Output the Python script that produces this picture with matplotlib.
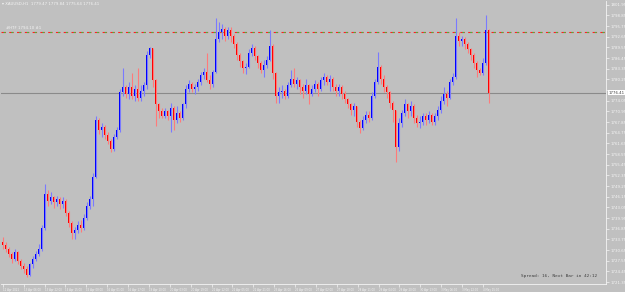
import numpy as np
import matplotlib
matplotlib.use("Agg")
import matplotlib.pyplot as plt

# XAUUSD H1 bars (close / high / low, open = previous close)
closes = [
    1732.0, 1731.0, 1729.5, 1728.0, 1730.0, 1727.5, 1726.0, 1725.0, 1723.5, 1726.5,
    1728.0, 1729.5, 1731.0, 1737.0, 1747.0, 1745.0, 1746.0, 1744.5, 1745.5, 1744.0,
    1745.0, 1741.5, 1738.5, 1735.5, 1736.5, 1738.0, 1737.0, 1740.0, 1743.5, 1745.5,
    1752.0, 1768.5, 1765.5, 1766.5, 1764.0, 1762.5, 1760.0, 1763.5, 1765.5, 1776.5,
    1778.0, 1776.0, 1778.0, 1775.5, 1777.5, 1775.0, 1777.0, 1778.5, 1787.5, 1789.5,
    1780.0, 1773.0, 1771.0, 1769.5, 1771.0, 1769.5, 1772.0, 1768.5, 1770.5, 1769.0,
    1773.0, 1777.5, 1779.0, 1777.5, 1778.0, 1779.5, 1781.5, 1782.5, 1780.0, 1779.0,
    1782.5, 1792.0, 1794.0, 1795.0, 1793.0, 1794.5, 1793.0, 1790.5, 1787.5, 1785.5,
    1783.5, 1784.0, 1788.0, 1789.5, 1787.0, 1785.0, 1783.0, 1784.5, 1786.0, 1790.0,
    1782.0, 1775.5, 1776.5, 1777.0, 1775.5, 1778.5, 1780.5, 1779.0, 1780.0, 1778.0,
    1777.0, 1778.5, 1776.0, 1777.5, 1779.0, 1777.5, 1780.0, 1781.0, 1779.5, 1780.5,
    1778.0, 1777.0, 1778.0, 1776.0, 1774.5, 1773.0, 1771.5, 1772.5, 1768.0, 1766.0,
    1768.5, 1770.0, 1769.0, 1775.5, 1779.5, 1784.0, 1780.5, 1778.0, 1776.5, 1773.5,
    1771.5, 1760.5, 1767.5, 1770.5, 1773.0, 1771.0, 1772.5, 1769.0, 1767.5, 1768.0,
    1769.5, 1768.5, 1770.0, 1768.0, 1769.5, 1771.5, 1774.0, 1776.0, 1775.0, 1779.5,
    1781.0, 1793.0, 1791.5, 1792.0, 1790.5, 1789.0, 1787.5, 1785.0, 1783.0, 1782.0,
    1785.0, 1794.5, 1776.41,
]
highs = [
    1734.5, 1733.0, 1731.5, 1730.0, 1731.0, 1730.5, 1728.0, 1727.0, 1726.0, 1727.0,
    1729.0, 1730.5, 1732.5, 1738.0, 1749.8, 1748.0, 1747.5, 1746.5, 1746.5, 1746.0,
    1746.0, 1745.5, 1742.0, 1739.0, 1737.5, 1739.0, 1739.5, 1741.0, 1744.5, 1746.5,
    1753.0, 1769.5, 1769.0, 1767.5, 1767.0, 1765.0, 1763.0, 1764.5, 1766.5, 1777.5,
    1783.5, 1778.5, 1779.5, 1782.0, 1778.5, 1783.5, 1778.5, 1779.5, 1788.5, 1789.8,
    1789.5, 1780.5, 1773.5, 1772.0, 1772.0, 1771.5, 1773.5, 1772.5, 1772.5, 1771.0,
    1773.5, 1778.5, 1780.0, 1779.5, 1779.0, 1780.5, 1782.5, 1783.5, 1788.0, 1781.5,
    1783.0, 1798.0, 1797.0, 1796.5, 1795.5, 1795.5, 1795.5, 1793.5, 1791.0, 1788.0,
    1786.0, 1785.0, 1789.0, 1790.5, 1790.0, 1787.5, 1785.5, 1786.0, 1787.0, 1794.5,
    1790.5, 1782.5, 1778.0, 1778.5, 1777.5, 1779.5, 1783.0, 1783.6, 1781.0, 1780.5,
    1779.0, 1780.5, 1779.0, 1778.5, 1780.0, 1779.5, 1781.0, 1782.0, 1781.5, 1781.5,
    1781.0, 1779.0, 1779.0, 1778.5, 1777.0, 1775.0, 1773.5, 1773.5, 1772.5, 1768.5,
    1769.5, 1771.0, 1771.0, 1776.5, 1780.5, 1788.3, 1784.5, 1781.5, 1778.5, 1777.0,
    1774.0, 1771.5, 1769.0, 1771.5, 1774.5, 1773.5, 1774.0, 1773.0, 1770.0, 1769.5,
    1770.5, 1770.5, 1771.0, 1770.5, 1770.5, 1772.5, 1775.5, 1778.0, 1777.0, 1780.5,
    1782.0, 1798.2, 1794.0, 1793.0, 1792.5, 1791.0, 1789.5, 1788.0, 1785.5, 1783.5,
    1786.5, 1799.0, 1795.0,
]
lows = [
    1731.0, 1730.0, 1728.5, 1727.0, 1727.5, 1726.5, 1725.0, 1724.0, 1722.8, 1723.0,
    1725.5, 1727.5, 1729.0, 1730.5, 1736.5, 1743.5, 1744.0, 1743.0, 1743.5, 1742.5,
    1743.0, 1740.5, 1737.5, 1733.8, 1734.0, 1735.5, 1736.0, 1736.5, 1739.5, 1742.5,
    1743.5, 1751.5, 1764.5, 1763.5, 1763.0, 1761.5, 1759.3, 1759.5, 1763.0, 1765.0,
    1775.5, 1775.0, 1774.5, 1774.5, 1774.0, 1774.0, 1774.0, 1775.5, 1777.5, 1786.5,
    1778.0, 1766.6, 1769.0, 1769.0, 1769.0, 1768.5, 1765.0, 1765.5, 1767.5, 1768.0,
    1768.5, 1772.0, 1776.5, 1776.5, 1776.0, 1777.0, 1778.5, 1780.5, 1779.5, 1777.5,
    1778.0, 1782.0, 1791.0, 1792.0, 1791.5, 1792.0, 1791.0, 1789.5, 1786.0, 1784.0,
    1782.0, 1781.8, 1783.5, 1787.0, 1786.0, 1783.5, 1782.0, 1781.0, 1783.5, 1785.5,
    1780.5, 1773.5, 1773.5, 1775.0, 1774.5, 1775.0, 1778.0, 1778.0, 1777.5, 1776.0,
    1775.0, 1776.0, 1773.0, 1775.5, 1776.5, 1775.5, 1777.0, 1778.5, 1778.5, 1777.0,
    1777.0, 1775.5, 1775.5, 1774.5, 1773.5, 1772.0, 1770.0, 1769.5, 1766.5, 1764.8,
    1765.5, 1767.5, 1768.0, 1768.5, 1775.0, 1779.0, 1779.0, 1776.5, 1775.0, 1772.0,
    1768.0, 1756.2, 1759.5, 1766.5, 1769.5, 1769.0, 1769.5, 1767.5, 1766.5, 1766.0,
    1767.0, 1767.0, 1767.5, 1767.0, 1767.0, 1768.5, 1770.5, 1773.0, 1772.5, 1774.5,
    1778.5, 1780.5, 1790.0, 1790.0, 1789.0, 1788.0, 1786.0, 1783.5, 1781.0, 1781.6,
    1781.5, 1784.5, 1773.5,
]
first_open = 1733.0

time_labels = [
    "12 Apr 2021", "13 Apr 06:00", "13 Apr 22:00", "14 Apr 15:00", "15 Apr 08:00",
    "16 Apr 01:00", "16 Apr 17:00", "19 Apr 10:00", "20 Apr 03:00", "20 Apr 19:00",
    "21 Apr 12:00", "22 Apr 05:00", "22 Apr 21:00", "23 Apr 16:00", "26 Apr 09:00",
    "27 Apr 02:00", "27 Apr 18:00", "28 Apr 11:00", "29 Apr 04:00", "29 Apr 20:00",
    "30 Apr 13:00", "3 May 06:00", "3 May 22:00", "4 May 15:00",
]
header = "XAUUSD,H1  1779.47 1779.84 1775.64 1776.41"
level_price = 1794.10
level_text = "#HTF 1794.10 #1"
spread_text = "Spread: 16, Next Bar in 42:12"

bg = "#c0c0c0"
txt = "#f4f4f4"

closes = np.array(closes)
highs = np.array(highs)
lows = np.array(lows)
opens = np.concatenate([[first_open], closes[:-1]])
idx = np.arange(len(closes))
up = closes >= opens

fig = plt.figure(figsize=(6.25, 2.92), dpi=100, facecolor=bg)
ax = fig.add_axes([0.002, 0.027, 0.968, 0.970], facecolor=bg)

# wicks (lighter), then bodies
ax.vlines(idx[up], lows[up], highs[up], color="#7a7aff", lw=0.8, zorder=2)
ax.vlines(idx[~up], lows[~up], highs[~up], color="#ff7a7a", lw=0.8, zorder=2)
ax.bar(idx[up], closes[up] - opens[up], bottom=opens[up], width=0.5,
       color="#0000ff", linewidth=0, zorder=3)
ax.bar(idx[~up], closes[~up] - opens[~up], bottom=opens[~up], width=0.5,
       color="#ff0000", linewidth=0, zorder=3)

# current price line
last = closes[-1]
ax.axhline(last, color="#8a8a8a", lw=0.8, zorder=1)

# alert level, red / green dash-dot
ax.axhline(level_price, color="#ff2020", lw=0.8, ls=(0, (4, 3)), zorder=1)
ax.axhline(level_price, color="#2ecc40", lw=0.8, ls=(5, (1.5, 5.5)), zorder=1)
ax.text(1.0, level_price + 0.4, level_text, fontsize=2.8, color=txt,
        ha="left", va="bottom")

ax.set_xlim(-0.5, 201.2)
ax.set_ylim(1720.75, 1803.1)

# right price scale (the label under the last-price tag is left out)
ax.yaxis.tick_right()
yt = np.arange(1801.95, 1720.0, -3.1)
ax.set_yticks(yt)
ax.set_yticklabels(["" if abs(v - last) < 2.0 else f"{v:.2f}" for v in yt],
                   fontsize=2.8, color=txt)
ax.tick_params(axis="y", length=2, width=0.5, color=txt, pad=1)

# bottom time scale
step = 6.96
xt = np.arange(len(time_labels)) * step
ax.set_xticks(xt)
ax.set_xticklabels(time_labels, fontsize=1.9, color=txt, ha="left")
ax.tick_params(axis="x", length=2, width=0.5, color=txt, pad=0.5)

for side in ["top", "left"]:
    ax.spines[side].set_visible(False)
ax.spines["right"].set_color(txt)
ax.spines["bottom"].set_color(txt)
ax.spines["right"].set_linewidth(0.6)
ax.spines["bottom"].set_linewidth(0.6)

# last price tag on the scale
ax.text(1.004, last, f"{last:.2f}", transform=ax.get_yaxis_transform(),
        fontsize=2.8, color="#404040", va="center", ha="left", zorder=5,
        bbox=dict(boxstyle="square,pad=0.2", facecolor="white", edgecolor="none"))

fig.text(0.004, 0.985, "\u25be " + header, fontsize=2.8, color=txt,
         ha="left", va="center")
ax.text(0.985, 0.02, spread_text, transform=ax.transAxes, fontsize=3.2,
        family="DejaVu Sans Mono", color="#404040", ha="right", va="bottom")

fig.savefig("out.png", dpi=100, facecolor=bg)
